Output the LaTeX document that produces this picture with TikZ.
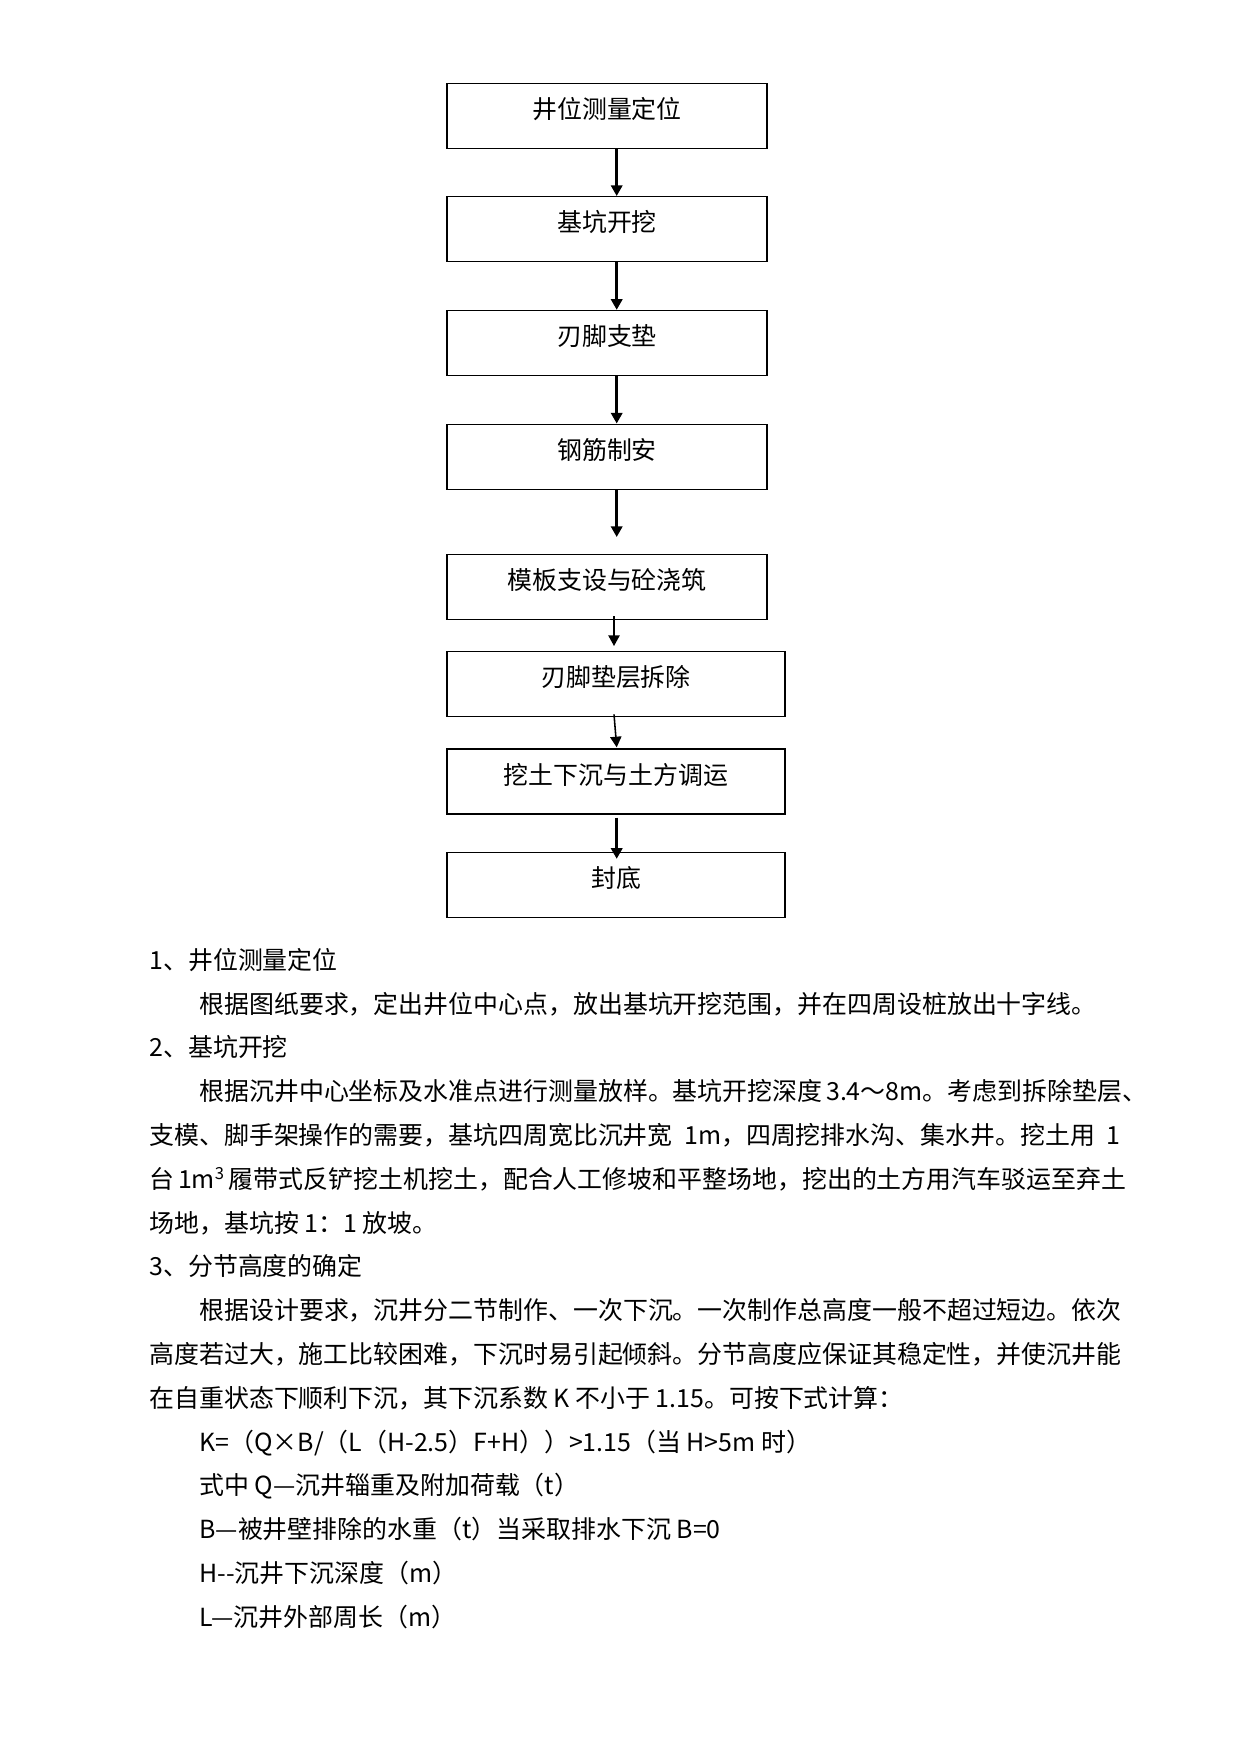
\documentclass[tikz,border=0pt]{standalone}
\usepackage{fontspec}
\newfontfamily\cjk{Noto Sans CJK SC}
\usetikzlibrary{calc,arrows.meta,positioning}
\XeTeXlinebreaklocale "zh"
\XeTeXlinebreakskip=0pt plus 4pt
\newlength{\fullw}\setlength{\fullw}{16.431cm}
\newlength{\indw}\setlength{\indw}{15.585cm}
\tikzset{
  stepbox/.style={draw,line width=0.65pt,minimum width=5.415cm,minimum height=1.1cm,
    inner sep=0pt,text height=3mm,text depth=2.1mm,font=\cjk\fontsize{12pt}{14pt}\selectfont},
  widebox/.style={stepbox,minimum width=5.72cm},
  flow/.style={line width=1.5pt,-{Triangle[width=1.9mm,length=1.8mm]}},
  flowthin/.style={flow,line width=0.75pt},
  txt/.style={anchor=west,inner sep=0pt,text height=10pt,text depth=2pt,
    font=\cjk\fontsize{12pt}{14pt}\selectfont},
}
\begin{document}
\begin{tikzpicture}[x=0.016922cm,y=-0.016922cm]
  \useasboundingbox (0,0) rectangle (1241,1755);
  % flow chart
  \node[stepbox] (b1) at (607,115.8) {井位测量定位};
  \node[stepbox] (b2) at (607,229.2) {基坑开挖};
  \node[stepbox] (b3) at (607,343.0) {刃脚支垫};
  \node[stepbox] (b4) at (607,456.7) {钢筋制安};
  \node[stepbox] (b5) at (607,587.2) {模板支设与砼浇筑};
  \node[widebox] (b6) at (616,684.2) {刃脚垫层拆除};
  \node[widebox] (b7) at (616,781.5) {挖土下沉与土方调运};
  \node[widebox] (b8) at (616,885.0) {封底};
  \coordinate (ax) at (616.7,0);
  \coordinate (axl) at (614,0);
  \draw[flow] (b1.south -| ax) -- (b2.north -| ax);
  \draw[flow] (b2.south -| ax) -- (b3.north -| ax);
  \draw[flow] (b3.south -| ax) -- (b4.north -| ax);
  \draw[flow] (b4.south -| ax) -- ($(b5.north -| ax)+(0,-17)$);
  \draw[flowthin] ($(b5.south -| axl)+(0,-4)$) -- ($(b6.north -| axl)+(0,-5)$);
  \draw[flowthin] ($(b6.south -| axl)+(0,-3)$) -- ($(b7.north -| ax)+(0,-1)$);
  \draw[flow] ($(b7.south -| ax)+(0,3)$) -- ($(b8.north -| ax)+(0,7)$);
  % text below the chart
  \node[txt] (l1) at (149,961.0) {1、井位测量定位};
  \node[txt] (l2) at (199,1004.8) {根据图纸要求，定出井位中心点，放出基坑开挖范围，并在四周设桩放出十字线。};
  \node[txt] (l3) at (149,1048.6) {2、基坑开挖};
  \node[txt] (l4) at (199,1092.4) {\makebox[\indw][s]{根据沉井中心坐标及水准点进行测量放样。基坑开挖深度 3.4～8m。考虑到拆除垫层、}};
  \node[txt] (l5) at (149,1136.2) {\makebox[\fullw][s]{支模、脚手架操作的需要，基坑四周宽比沉井宽 1m，四周挖排水沟、集水井。挖土用 1}};
  \node[txt] (l6) at (149,1180.0) {\makebox[\fullw][s]{台 1m\textsuperscript{3} 履带式反铲挖土机挖土，配合人工修坡和平整场地，挖出的土方用汽车驳运至弃土}};
  \node[txt] (l7) at (149,1223.8) {场地，基坑按 1：1 放坡。};
  \node[txt] (l8) at (149,1267.6) {3、分节高度的确定};
  \node[txt] (l9) at (199,1311.4) {\makebox[\indw][s]{根据设计要求，沉井分二节制作、一次下沉。一次制作总高度一般不超过短边。依次}};
  \node[txt] (l10) at (149,1355.2) {\makebox[\fullw][s]{高度若过大，施工比较困难，下沉时易引起倾斜。分节高度应保证其稳定性，并使沉井能}};
  \node[txt] (l11) at (149,1399.0) {在自重状态下顺利下沉，其下沉系数 K 不小于 1.15。可按下式计算：};
  \node[txt] (l12) at (199,1442.8) {K=（Q×B/（L（H-2.5）F+H））>1.15（当 H>5m 时）};
  \node[txt] (l13) at (199,1486.6) {式中 Q—沉井辎重及附加荷载（t）};
  \node[txt] (l14) at (199,1530.4) {B—被井壁排除的水重（t）当采取排水下沉 B=0};
  \node[txt] (l15) at (199,1574.2) {H-{}-沉井下沉深度（m）};
  \node[txt] (l16) at (199,1618.0) {L—沉井外部周长（m）};
\end{tikzpicture}
\end{document}
